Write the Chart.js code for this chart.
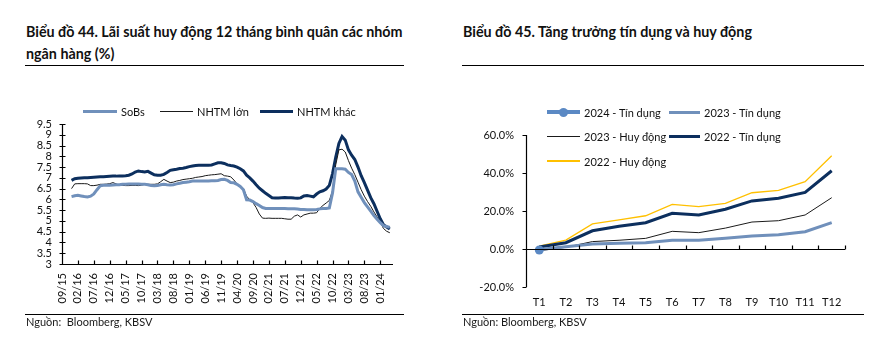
<!DOCTYPE html>
<html>
<head>
<meta charset="utf-8">
<script src="https://cdn.jsdelivr.net/npm/chart.js@4.4.1/dist/chart.umd.min.js"></script>
<style>
  body { margin: 0; width: 894px; height: 340px; background: #fff; position: relative; overflow: hidden;
         font-family: Lato, "Noto Sans", sans-serif; color: #111; }
  .title { position: absolute; font-weight: bold; font-size: 14.3px; line-height: 22px; white-space: nowrap; }
  .rule { position: absolute; height: 1px; background: #000; }
  .src { position: absolute; font-size: 11px; line-height: 14px; color: #1a1a1a; white-space: nowrap; }
  .box { position: absolute; top: 80px; width: 447px; height: 240px; }
  .item { position: absolute; height: 14px; display: flex; align-items: center; font-size: 11px; white-space: nowrap; }
  .swatch { position: relative; display: inline-block; margin-right: 4px; }
  .dot { position: absolute; border-radius: 50%; }
</style>
</head>
<body>
<div class="title" style="left:26px; top:21px;">Biểu đồ 44. Lãi suất huy động 12 tháng bình quân các nhóm<br>ngân hàng (%)</div>
<div class="rule" style="left:25px; top:65px; width:379px;"></div>
<div class="title" style="left:463px; top:21px;">Biểu đồ 45. Tăng trưởng tín dụng và huy động</div>
<div class="rule" style="left:462px; top:65px; width:402px;"></div>

<div class="box" style="left:0;"><canvas id="rateChart" width="447" height="240"></canvas></div>
<div class="box" style="left:447px;"><canvas id="growthChart" width="447" height="240"></canvas></div>

<div class="rule" style="left:25px; top:314px; width:379px;"></div>
<div class="src" style="left:26px; top:315px;">Nguồn:&nbsp; Bloomberg, KBSV</div>
<div class="rule" style="left:462px; top:314px; width:402px;"></div>
<div class="src" style="left:463px; top:315px;">Nguồn: Bloomberg, KBSV</div>

<script>
// ---- Lãi suất huy động 12 tháng (monthly, 12/15 -> 04/24) ----
const tickLabels = ["09/15", "02/16", "07/16", "12/16", "05/17", "10/17", "03/18", "08/18", "01/19", "06/19",
  "11/19", "04/20", "09/20", "02/21", "07/21", "12/21", "05/22", "10/22", "03/23", "08/23", "01/24"];
const firstMonth = 3; // months after 09/15

const sobs = [
  6.13, 6.17, 6.19, 6.16, 6.13, 6.11, 6.15, 6.25, 6.45, 6.63,
  6.66, 6.66, 6.66, 6.67, 6.68, 6.68, 6.70, 6.70, 6.71, 6.72,
  6.72, 6.71, 6.70, 6.70, 6.68, 6.64, 6.63, 6.64, 6.68, 6.70,
  6.68, 6.67, 6.68, 6.72, 6.75, 6.78, 6.80, 6.82, 6.85, 6.85,
  6.85, 6.85, 6.85, 6.85, 6.86, 6.87, 6.88, 6.92, 6.93, 6.88,
  6.78, 6.77, 6.70, 6.60, 6.45, 5.98, 5.97, 5.90, 5.80, 5.72,
  5.62, 5.58, 5.58, 5.58, 5.58, 5.58, 5.58, 5.58, 5.57, 5.57,
  5.56, 5.55, 5.53, 5.53, 5.52, 5.52, 5.52, 5.53, 5.56, 5.58,
  5.58, 5.60, 6.30, 7.42, 7.42, 7.42, 7.40, 7.25, 7.15, 6.85,
  6.35, 6.10, 5.85, 5.65, 5.45, 5.25, 5.08, 4.92, 4.78, 4.74, 4.70
];
const nhtmLon = [
  6.50, 6.72, 6.73, 6.73, 6.73, 6.72, 6.64, 6.64, 6.66, 6.70,
  6.70, 6.71, 6.73, 6.78, 6.72, 6.66, 6.65, 6.64, 6.64, 6.65,
  6.65, 6.64, 6.66, 6.70, 6.70, 6.70, 6.70, 6.72, 6.82, 6.93,
  6.85, 6.78, 6.80, 6.85, 6.88, 6.92, 6.94, 6.96, 6.98, 7.02,
  7.04, 7.06, 7.10, 7.12, 7.14, 7.15, 7.17, 7.19, 7.10, 7.08,
  7.05, 6.90, 6.72, 6.60, 6.50, 6.15, 5.98, 5.85, 5.62, 5.32,
  5.13, 5.12, 5.13, 5.12, 5.12, 5.12, 5.12, 5.10, 5.08, 5.08,
  5.22, 5.28, 5.18, 5.28, 5.32, 5.36, 5.36, 5.38, 5.58, 5.72,
  5.83, 5.95, 6.40, 7.60, 8.30, 8.33, 8.20, 7.80, 7.45, 7.15,
  6.80, 6.45, 6.15, 5.90, 5.68, 5.42, 5.18, 4.95, 4.65, 4.52, 4.45
];
const nhtmKhac = [
  6.88, 6.96, 6.98, 6.99, 7.00, 7.01, 7.02, 7.03, 7.04, 7.05,
  7.05, 7.06, 7.07, 7.08, 7.08, 7.09, 7.09, 7.10, 7.12, 7.18,
  7.27, 7.32, 7.29, 7.27, 7.30, 7.22, 7.14, 7.12, 7.12, 7.16,
  7.25, 7.35, 7.38, 7.40, 7.43, 7.45, 7.48, 7.52, 7.55, 7.57,
  7.58, 7.58, 7.58, 7.58, 7.60, 7.65, 7.70, 7.70, 7.67, 7.60,
  7.57, 7.55, 7.50, 7.42, 7.32, 7.12, 7.00, 6.85, 6.68, 6.52,
  6.40, 6.28, 6.18, 6.08, 6.07, 6.07, 6.08, 6.09, 6.08, 6.08,
  6.06, 6.05, 6.07, 6.16, 6.18, 6.15, 6.12, 6.25, 6.35, 6.40,
  6.48, 6.65, 7.20, 7.95, 8.60, 8.92, 8.75, 8.30, 8.05, 7.85,
  7.50, 7.10, 6.78, 6.43, 6.08, 5.80, 5.45, 5.10, 4.82, 4.72, 4.62
];

// ---- Tăng trưởng tín dụng và huy động (% so với đầu năm) ----
const months = ["T1", "T2", "T3", "T4", "T5", "T6", "T7", "T8", "T9", "T10", "T11", "T12"];
const tinDung2024 = [-0.5];
const tinDung2023 = [-0.3, 1.2, 2.6, 3.0, 3.3, 4.6, 4.6, 5.6, 6.8, 7.5, 9.1, 13.9];
const huyDong2023 = [-0.9, 0.9, 3.9, 4.6, 5.6, 9.3, 8.6, 11.0, 14.2, 14.9, 17.9, 27.0];
const tinDung2022 = [1.0, 3.3, 9.6, 12.0, 13.8, 18.8, 17.9, 20.9, 25.3, 26.7, 29.8, 41.2];
const huyDong2022 = [1.5, 4.7, 13.2, 15.3, 17.5, 23.5, 22.3, 24.0, 29.6, 30.9, 35.4, 49.1];

const NAVY = '#0c2f5e';
const STEEL = '#7090bb';

Chart.defaults.font.family = 'Lato, "Noto Sans", sans-serif';
Chart.defaults.color = '#111';

// axis lines and tick marks drawn by hand (cross ticks on y, short ticks up from x)
const axisMarks = {
  id: 'axisMarks',
  afterDraw(chart, args, o) {
    const ctx = chart.ctx, a = chart.chartArea;
    const xs = chart.scales.x, ys = chart.scales.y;
    ctx.save();
    ctx.strokeStyle = '#000';
    ctx.lineWidth = 1.2;
    ctx.beginPath();
    const ax = Math.round(a.left) + 0.5;
    ctx.moveTo(ax, a.top);
    ctx.lineTo(ax, a.bottom);
    ys.ticks.forEach(t => {
      const py = Math.round(ys.getPixelForValue(t.value)) + 0.5;
      ctx.moveTo(ax - o.yOut, py);
      ctx.lineTo(ax + o.yIn, py);
    });
    const py0 = Math.round(ys.getPixelForValue(o.xAt)) + 0.5;
    ctx.moveTo(a.left, py0);
    ctx.lineTo(a.right, py0);
    let marks;
    if (o.mode === 'category') {
      const w = (a.right - a.left) / xs.ticks.length;
      marks = xs.ticks.map((t, k) => a.left + (k + 1) * w);
    } else {
      marks = xs.ticks.map(t => xs.getPixelForValue(t.value));
    }
    marks.forEach(px => {
      px = Math.round(px) + 0.5;
      ctx.moveTo(px, py0);
      ctx.lineTo(px, py0 - 4);
    });
    ctx.stroke();
    ctx.restore();
  }
};

function htmlLegend(chart, slots, boxLeft) {
  chart.data.datasets.forEach((ds, i) => {
    const s = slots[i];
    const item = document.createElement('div');
    item.className = 'item';
    item.style.left = (boxLeft + s.left) + 'px';
    item.style.top = (s.top - 7) + 'px';
    const sw = document.createElement('span');
    sw.className = 'swatch';
    sw.style.width = s.width + 'px';
    sw.style.height = ds.borderWidth + 'px';
    sw.style.background = ds.borderColor;
    if (ds.pointRadius > 0) {
      const d = document.createElement('span');
      const r = ds.pointRadius;
      d.className = 'dot';
      d.style.width = d.style.height = (2 * r) + 'px';
      d.style.left = (s.width / 2 - r) + 'px';
      d.style.top = (ds.borderWidth / 2 - r) + 'px';
      d.style.background = ds.pointBackgroundColor;
      sw.appendChild(d);
    }
    item.appendChild(sw);
    item.appendChild(document.createTextNode(ds.label));
    document.body.appendChild(item);
  });
}

const toPoints = arr => arr.map((v, i) => ({ x: firstMonth + i, y: v }));

const rateChart = new Chart(document.getElementById('rateChart'), {
  type: 'line',
  data: {
    datasets: [
      { label: 'SoBs', data: toPoints(sobs), borderColor: STEEL, borderWidth: 3, pointRadius: 0 },
      { label: 'NHTM lớn', data: toPoints(nhtmLon), borderColor: '#1a1a1a', borderWidth: 1, pointRadius: 0 },
      { label: 'NHTM khác', data: toPoints(nhtmKhac), borderColor: NAVY, borderWidth: 3, pointRadius: 0 }
    ]
  },
  options: {
    responsive: false,
    animation: false,
    layout: { padding: { top: 44, right: 54, left: 0, bottom: 0 } },
    plugins: {
      legend: { display: false },
      tooltip: { enabled: false },
      axisMarks: { xAt: 3, yOut: 3, yIn: 3, mode: 'linear' }
    },
    scales: {
      x: {
        type: 'linear', min: 0, max: 104,
        afterFit: s => { s.height = 56; },
        grid: { display: false, drawTicks: false },
        border: { display: false },
        ticks: {
          stepSize: 5, includeBounds: false, autoSkip: false,
          minRotation: 90, maxRotation: 90, padding: 9,
          font: { size: 11 },
          callback: v => tickLabels[v / 5]
        }
      },
      y: {
        min: 3, max: 9.5,
        afterFit: s => { s.width = 62; },
        grid: { display: false, drawTicks: false },
        border: { display: false },
        ticks: { stepSize: 0.5, autoSkip: false, padding: 10, font: { size: 11 }, callback: v => String(v) }
      }
    }
  },
  plugins: [axisMarks]
});

const growthChart = new Chart(document.getElementById('growthChart'), {
  type: 'line',
  data: {
    labels: months,
    datasets: [
      { label: '2024 - Tín dụng', data: tinDung2024, borderColor: '#5b89c4', borderWidth: 4,
        pointRadius: 4.5, pointBackgroundColor: '#5b89c4', pointBorderWidth: 0 },
      { label: '2023 - Tín dụng', data: tinDung2023, borderColor: STEEL, borderWidth: 3, pointRadius: 0 },
      { label: '2023 - Huy động', data: huyDong2023, borderColor: '#1a1a1a', borderWidth: 1, pointRadius: 0 },
      { label: '2022 - Tín dụng', data: tinDung2022, borderColor: NAVY, borderWidth: 3, pointRadius: 0 },
      { label: '2022 - Huy động', data: huyDong2022, borderColor: '#ffc000', borderWidth: 1.3, pointRadius: 0 }
    ]
  },
  options: {
    responsive: false,
    animation: false,
    layout: { padding: { top: 55, right: 49, left: 0, bottom: 0 } },
    plugins: {
      legend: { display: false },
      tooltip: { enabled: false },
      axisMarks: { xAt: 0, yOut: 4, yIn: 0, mode: 'category' }
    },
    scales: {
      x: {
        offset: true,
        afterFit: s => { s.height = 33; },
        grid: { display: false, drawTicks: false },
        border: { display: false },
        ticks: { padding: 9, font: { size: 11 }, autoSkip: false, maxRotation: 0 }
      },
      y: {
        min: -20, max: 60,
        afterFit: s => { s.width = 79; },
        grid: { display: false, drawTicks: false },
        border: { display: false },
        ticks: { stepSize: 20, padding: 12, font: { size: 11 }, callback: v => v.toFixed(1) + '%' }
      }
    }
  },
  plugins: [axisMarks]
});

htmlLegend(rateChart, [
  { left: 83, top: 111, width: 34 },
  { left: 160, top: 111, width: 33 },
  { left: 260, top: 111, width: 33 }
], 0);
htmlLegend(growthChart, [
  { left: 100, top: 112, width: 33 },
  { left: 222, top: 112, width: 31 },
  { left: 100, top: 136, width: 33 },
  { left: 222, top: 136, width: 31 },
  { left: 100, top: 161, width: 33 }
], 447);
</script>
</body>
</html>
